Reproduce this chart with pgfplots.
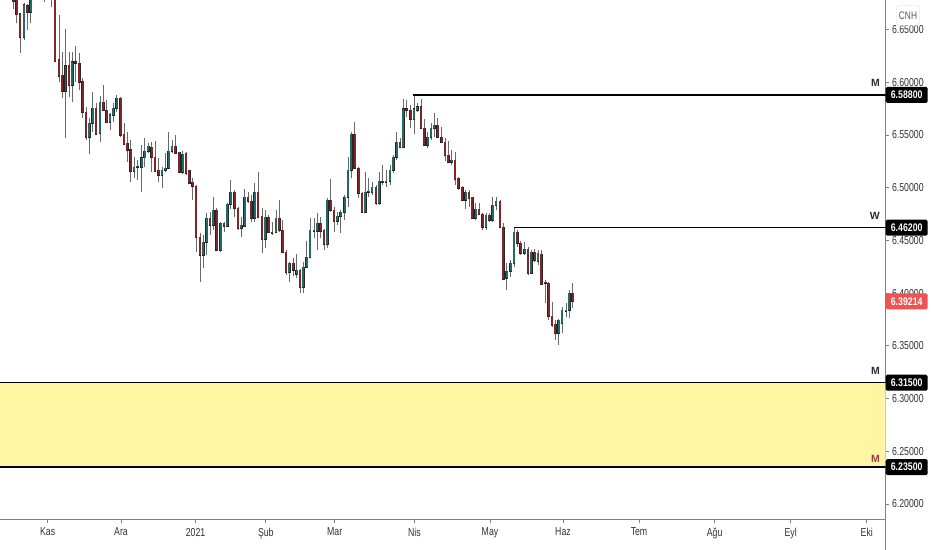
\documentclass[border=0pt]{standalone}
\usepackage{fontspec}
\setmainfont{Liberation Sans}
\newfontfamily\tvfont[FakeStretch=0.76]{Liberation Sans}
\newfontfamily\boxfont[FakeStretch=0.8]{Liberation Sans}
\usepackage{pgfplots}
\pgfplotsset{compat=1.18}
\usepackage{pgfplotstable}
\definecolor{upc}{RGB}{32,108,100}
\definecolor{dnc}{RGB}{128,38,42}
\definecolor{wickc}{RGB}{105,105,105}
\definecolor{axc}{RGB}{125,128,138}
\definecolor{txc}{RGB}{50,50,55}
\definecolor{zone}{RGB}{255,245,163}
\definecolor{lastc}{RGB}{239,83,80}
\definecolor{mred}{RGB}{150,62,62}

\pgfplotstableread{
x o h l c
13.3 6.6800 6.6850 6.6695 6.6770
16.7 6.6820 6.6880 6.6562 6.6638
20.0 6.6647 6.6660 6.6277 6.6429
24.0 6.6429 6.6752 6.6400 6.6733
27.3 6.6723 6.6742 6.6495 6.6666
30.7 6.6666 6.6850 6.6562 6.6790
34.1 6.6800 6.6920 6.6790 6.6880
37.5 6.6880 6.7000 6.6830 6.6940
41.0 6.6940 6.7000 6.6820 6.6900
44.3 6.6900 6.6950 6.6761 6.6860
48.0 6.6860 6.6980 6.6800 6.6920
51.7 6.6920 6.6970 6.6714 6.6880
55.0 6.6900 6.6950 6.6190 6.6201
59.0 6.6211 6.6638 6.6002 6.6059
62.3 6.6068 6.6287 6.5850 6.5916
65.5 6.5916 6.6505 6.5470 6.6154
69.0 6.6154 6.6287 6.5860 6.5973
72.2 6.5973 6.6287 6.5812 6.6192
75.8 6.6192 6.6343 6.6002 6.6182
79.2 6.6182 6.6277 6.5926 6.6002
82.7 6.6002 6.6040 6.5660 6.5717
86.0 6.5717 6.5765 6.5451 6.5480
89.3 6.5480 6.5660 6.5319 6.5613
92.7 6.5613 6.5907 6.5527 6.5755
96.0 6.5755 6.5803 6.5499 6.5508
100.0 6.5518 6.5869 6.5432 6.5812
103.3 6.5812 6.5973 6.5736 6.5736
106.7 6.5736 6.5831 6.5613 6.5622
110.0 6.5622 6.5708 6.5546 6.5689
113.3 6.5689 6.5803 6.5622 6.5755
116.7 6.5755 6.5878 6.5717 6.5850
120.7 6.5850 6.5859 6.5480 6.5499
124.0 6.5508 6.5613 6.5405 6.5413
127.3 6.5423 6.5527 6.5243 6.5357
130.7 6.5357 6.5451 6.5053 6.5157
134.0 6.5157 6.5290 6.5091 6.5195
137.3 6.5195 6.5262 6.5072 6.5205
141.7 6.5195 6.5404 6.4958 6.5283
144.7 6.5283 6.5470 6.5195 6.5347
148.3 6.5347 6.5423 6.5328 6.5394
151.7 6.5385 6.5432 6.5148 6.5290
155.0 6.5290 6.5442 6.5148 6.5157
158.7 6.5167 6.5281 6.5053 6.5119
162.0 6.5119 6.5195 6.4996 6.5167
165.3 6.5167 6.5328 6.5148 6.5186
168.7 6.5186 6.5527 6.5176 6.5347
172.0 6.5347 6.5451 6.5328 6.5394
175.3 6.5394 6.5499 6.5320 6.5328
179.3 6.5337 6.5340 6.5138 6.5148
182.7 6.5148 6.5347 6.5129 6.5319
186.0 6.5328 6.5335 6.5119 6.5138
189.3 6.5167 6.5170 6.5034 6.5043
192.7 6.5053 6.5091 6.4882 6.5015
196.0 6.5015 6.5024 6.4389 6.4531
200.0 6.4531 6.4569 6.4104 6.4360
203.3 6.4360 6.4550 6.4237 6.4483
206.7 6.4483 6.4759 6.4360 6.4711
210.0 6.4711 6.4768 6.4550 6.4645
213.3 6.4645 6.4910 6.4597 6.4787
216.7 6.4787 6.4806 6.4398 6.4408
220.7 6.4408 6.4673 6.4389 6.4664
224.0 6.4664 6.4673 6.4578 6.4635
227.3 6.4635 6.4854 6.4626 6.4844
230.7 6.4844 6.5072 6.4797 6.4958
234.7 6.4958 6.4977 6.4721 6.4806
238.0 6.4806 6.4816 6.4597 6.4616
241.3 6.4616 6.4721 6.4531 6.4645
244.7 6.4635 6.4986 6.4626 6.4910
248.0 6.4910 6.4958 6.4854 6.4873
251.3 6.4873 6.4930 6.4673 6.4711
254.7 6.4711 6.5043 6.4673 6.4958
258.0 6.4958 6.5148 6.4711 6.4721
262.0 6.4730 6.4806 6.4379 6.4512
265.3 6.4512 6.4787 6.4427 6.4721
268.7 6.4721 6.4740 6.4569 6.4578
272.0 6.4578 6.4673 6.4550 6.4569
276.0 6.4578 6.4787 6.4569 6.4711
279.3 6.4711 6.4882 6.4578 6.4597
282.7 6.4597 6.4692 6.4379 6.4389
286.0 6.4389 6.4408 6.4170 6.4199
289.3 6.4199 6.4294 6.4104 6.4284
293.3 6.4284 6.4332 6.4161 6.4218
296.7 6.4180 6.4370 6.4142 6.4218
300.0 6.4218 6.4225 6.4000 6.4056
303.3 6.4056 6.4294 6.4000 6.4246
306.7 6.4246 6.4493 6.4237 6.4341
310.0 6.4341 6.4711 6.4332 6.4597
314.0 6.4597 6.4711 6.4521 6.4588
317.3 6.4588 6.4759 6.4408 6.4664
320.7 6.4664 6.4721 6.4521 6.4588
324.0 6.4597 6.4604 6.4408 6.4464
327.3 6.4464 6.4901 6.4427 6.4882
330.7 6.4882 6.5081 6.4768 6.4787
334.0 6.4787 6.4816 6.4578 6.4683
337.3 6.4683 6.4768 6.4645 6.4730
340.7 6.4730 6.4787 6.4569 6.4768
344.7 6.4768 6.4930 6.4692 6.4910
348.0 6.4910 6.5290 6.4816 6.5167
351.3 6.5167 6.5527 6.5091 6.5508
354.7 6.5508 6.5622 6.5176 6.5186
358.7 6.5186 6.5195 6.4901 6.4948
362.0 6.4948 6.4958 6.4759 6.4768
365.3 6.4768 6.5148 6.4759 6.4958
368.7 6.4958 6.5091 6.4910 6.4967
372.0 6.4958 6.5053 6.4930 6.5005
376.0 6.5005 6.5024 6.4835 6.4854
379.3 6.4854 6.5148 6.4835 6.5062
382.7 6.5062 6.5214 6.5024 6.5053
386.0 6.5053 6.5167 6.5005 6.5062
390.0 6.5062 6.5214 6.5024 6.5167
393.3 6.5167 6.5309 6.5138 6.5290
396.7 6.5290 6.5527 6.5262 6.5432
400.0 6.5432 6.5470 6.5376 6.5385
403.3 6.5385 6.5840 6.5376 6.5746
406.7 6.5746 6.5831 6.5670 6.5736
410.7 6.5736 6.5784 6.5565 6.5651
414.0 6.5651 6.5880 6.5508 6.5746
417.3 6.5736 6.5803 6.5717 6.5765
421.0 6.5765 6.5840 6.5555 6.5565
424.3 6.5565 6.5651 6.5394 6.5404
427.6 6.5404 6.5527 6.5376 6.5480
431.0 6.5480 6.5613 6.5451 6.5565
434.3 6.5565 6.5708 6.5480 6.5594
437.7 6.5594 6.5660 6.5470 6.5480
441.7 6.5480 6.5575 6.5423 6.5432
445.0 6.5432 6.5470 6.5252 6.5309
448.3 6.5309 6.5442 6.5233 6.5243
451.7 6.5243 6.5357 6.5214 6.5262
455.0 6.5262 6.5337 6.5024 6.5081
458.3 6.5091 6.5100 6.4977 6.4996
462.3 6.5005 6.5012 6.4873 6.4882
465.7 6.4882 6.4977 6.4797 6.4958
469.0 6.4958 6.4977 6.4816 6.4901
472.3 6.4910 6.4915 6.4702 6.4711
475.7 6.4711 6.4854 6.4692 6.4797
479.0 6.4797 6.4854 6.4740 6.4749
482.7 6.4749 6.4759 6.4597 6.4626
486.0 6.4626 6.4759 6.4597 6.4740
489.3 6.4740 6.4759 6.4673 6.4692
492.7 6.4692 6.4910 6.4673 6.4835
496.0 6.4835 6.4910 6.4787 6.4873
500.0 6.4873 6.4882 6.4616 6.4626
503.3 6.4626 6.4664 6.4123 6.4132
506.7 6.4142 6.4284 6.4028 6.4208
510.7 6.4208 6.4313 6.4151 6.4284
514.0 6.4284 6.4620 6.4246 6.4578
517.3 6.4578 6.4597 6.4436 6.4474
520.7 6.4474 6.4493 6.4360 6.4379
524.7 6.4379 6.4483 6.4360 6.4417
528.0 6.4417 6.4436 6.4170 6.4189
531.3 6.4189 6.4408 6.4180 6.4389
534.7 6.4389 6.4417 6.4294 6.4313
538.0 6.4304 6.4408 6.4265 6.4379
541.3 6.4370 6.4408 6.4075 6.4085
545.3 6.4104 6.4123 6.3905 6.4094
548.7 6.4094 6.4104 6.3743 6.3781
552.0 6.3781 6.3914 6.3677 6.3696
555.3 6.3705 6.3743 6.3553 6.3620
558.7 6.3620 6.3750 6.3506 6.3743
562.0 6.3715 6.3867 6.3620 6.3838
566.0 6.3829 6.3905 6.3772 6.3838
569.3 6.3838 6.4028 6.3762 6.4000
572.7 6.4000 6.4094 6.3857 6.39214
}\candles

\begin{document}
\begin{tikzpicture}
\begin{axis}[name=ax, scale only axis, width=885.5pt, height=520pt,
  xmin=0, xmax=885.5, ymin=6.1848, ymax=6.678,
  axis x line*=bottom, axis y line*=right,
  axis line style={-, draw=axc, line width=1pt},
  ytick={6.20,6.25,6.30,6.35,6.40,6.45,6.50,6.55,6.60,6.65},
  yticklabels={6.20000,6.25000,6.30000,6.35000,6.40000,6.45000,6.50000,6.55000,6.60000,6.65000},
  xtick={47.6,121,195.6,265.8,334.7,414.4,490,563,639,714.6,790.7,866.8},
  xticklabels={Kas,Ara,2021,Şub,Mar,Nis,May,Haz,Tem,Ağu,Eyl,Eki},
  tick align=outside, major tick length=3.5pt,
  tick style={draw=axc, line width=0.8pt},
  ticklabel style={font=\tvfont\fontsize{11.5}{13}\selectfont, text=txc},
  yticklabel style={anchor=west, xshift=-0.5pt},
  xticklabel style={yshift=-1pt},
  clip mode=individual,
]
% zone
\addplot [forget plot, draw=none, fill=zone] coordinates {(0,6.235) (885.5,6.235) (885.5,6.315) (0,6.315) (0,6.235)};
% wicks
\addplot [forget plot, -, draw=wickc, line width=0.9pt, quiver={u=0, v=\thisrow{h}-\thisrow{l}}]
  table [x=x, y=l] {\candles};
% up bodies
\addplot [forget plot, -, draw=black!85, line width=2.7pt,
  restrict expr to domain={\thisrow{c}-\thisrow{o}}{0:1},
  quiver={u=0, v=\thisrow{c}-\thisrow{o}+0.001}]
  table [x=x, y expr=\thisrow{o}-0.0005] {\candles};
\addplot [forget plot, -, draw=upc, line width=1.9pt,
  restrict expr to domain={\thisrow{c}-\thisrow{o}}{0:1},
  quiver={u=0, v=\thisrow{c}-\thisrow{o}}]
  table [x=x, y=o] {\candles};
% down bodies
\addplot [forget plot, -, draw=black!85, line width=2.7pt,
  restrict expr to domain={\thisrow{o}-\thisrow{c}}{0.000001:1},
  quiver={u=0, v=\thisrow{o}-\thisrow{c}+0.001}]
  table [x=x, y expr=\thisrow{c}-0.0005] {\candles};
\addplot [forget plot, -, draw=dnc, line width=1.9pt,
  restrict expr to domain={\thisrow{o}-\thisrow{c}}{0.000001:1},
  quiver={u=0, v=\thisrow{o}-\thisrow{c}}]
  table [x=x, y=c] {\candles};
% levels
\addplot [forget plot, black, line width=1.3pt] coordinates {(413,6.588) (885.5,6.588)};
\addplot [forget plot, black, line width=1.3pt] coordinates {(514,6.462) (885.5,6.462)};
\addplot [forget plot, black, line width=1.3pt] coordinates {(0,6.315) (885.5,6.315)};
\addplot [forget plot, black, line width=1.3pt] coordinates {(0,6.235) (885.5,6.235)};
\node[font=\bfseries\fontsize{10.5}{12}\selectfont, text=black!82, anchor=base east, inner sep=0, yshift=8pt] at (axis cs:880,6.588) {M};
\node[font=\bfseries\fontsize{10.5}{12}\selectfont, text=black!82, anchor=base east, inner sep=0, yshift=8pt] at (axis cs:880,6.462) {W};
\node[font=\bfseries\fontsize{10.5}{12}\selectfont, text=black!82, anchor=base east, inner sep=0, yshift=8pt] at (axis cs:880,6.315) {M};
\node[font=\bfseries\fontsize{10.5}{12}\selectfont, text=mred, anchor=base east, inner sep=0, yshift=5pt] at (axis cs:880,6.235) {M};
\coordinate (b1) at (axis cs:885.5,6.588);
\coordinate (b2) at (axis cs:885.5,6.462);
\coordinate (b3) at (axis cs:885.5,6.39214);
\coordinate (b4) at (axis cs:885.5,6.315);
\coordinate (b5) at (axis cs:885.5,6.235);
\end{axis}
\tikzset{pbox/.style={anchor=west, inner sep=0pt, minimum width=42pt, minimum height=16pt, text=white, font=\boxfont\bfseries\fontsize{11}{12}\selectfont, rounded corners=1.5pt}}
\node[pbox, fill=black] at (b1) {6.58800};
\node[pbox, fill=black] at (b2) {6.46200};
\node[pbox, fill=lastc] at (b3) {6.39214};
\node[pbox, fill=black] at (b4) {6.31500};
\node[pbox, fill=black] at (b5) {6.23500};
\node[draw=black!15, fill=white, rounded corners=3pt, minimum width=23pt, minimum height=20pt, inner sep=0pt, text=black!65, font=\tvfont\fontsize{11}{12}\selectfont] at ([xshift=22.5pt, yshift=-15.5pt]ax.north east) {CNH};
\draw[axc, line width=1pt] (ax.south east) -- ++(0,-30pt);
\pgfresetboundingbox
\path[use as bounding box] ([yshift=-30pt]ax.south west) rectangle ([xshift=46.5pt]ax.north east);
\end{tikzpicture}
\end{document}
